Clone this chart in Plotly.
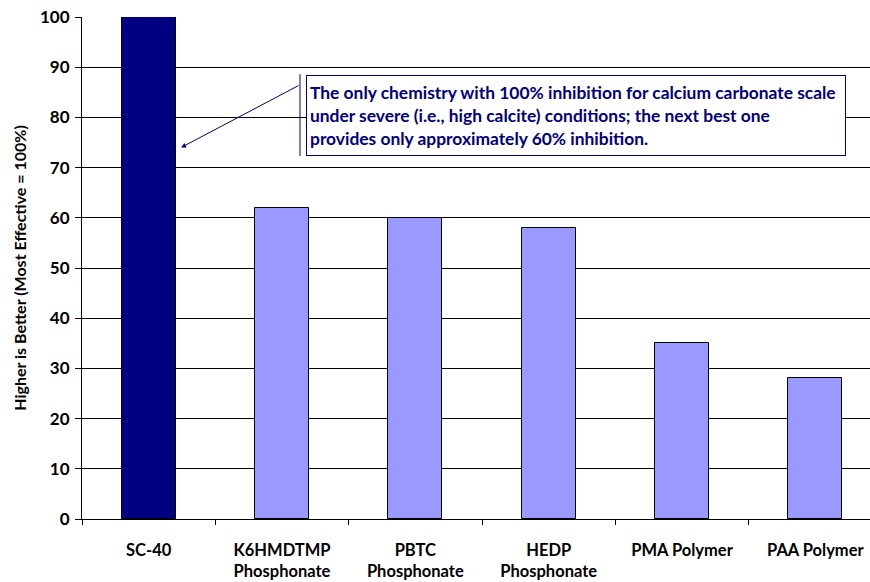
import plotly.graph_objects as go

categories = ["SC-40", "K6HMDTMP<br>Phosphonate", "PBTC<br>Phosphonate", "HEDP<br>Phosphonate", "PMA Polymer", "PAA Polymer"]
values = [100, 62, 60, 58, 35, 28]
bar_colors = ["#000080", "#9999FF", "#9999FF", "#9999FF", "#9999FF", "#9999FF"]
y_ticks = [0, 10, 20, 30, 40, 50, 60, 70, 80, 90, 100]
note = ("The only chemistry with 100% inhibition for calcium carbonate scale<br>"
        "under severe (i.e., high calcite) conditions; the next best one<br>"
        "provides only approximately 60% inhibition.")
y_title = "Higher is Better (Most Effective = 100%)"

FONT = "Lato"

fig = go.Figure(go.Bar(
    x=list(range(len(categories))),
    y=values,
    width=0.405,
    marker=dict(color=bar_colors, line=dict(color="#000000", width=1)),
    hoverinfo="skip",
))

fig.update_layout(
    width=870, height=582,
    margin=dict(l=82, r=0, t=17, b=63),
    paper_bgcolor="white", plot_bgcolor="white",
    showlegend=False,
    font=dict(family=FONT, color="#000000"),
    bargap=0,
)

fig.update_xaxes(
    automargin=False,
    tickmode="array",
    tickvals=list(range(len(categories))),
    ticktext=["<b>%s</b>" % c.replace("<br>", "</b><br><b>") for c in categories],
    range=[-0.5, 5.41],
    showgrid=False,
    showline=True, linecolor="#000000", linewidth=1,
    ticks="", ticklabelstandoff=16, ticklabeloverflow="allow",
    tickfont=dict(size=16.5, family=FONT, color="#000000"),
    zeroline=False,
)
fig.update_xaxes(minor=dict(tickmode="array", tickvals=[i - 0.5 for i in range(len(categories) + 1)],
                            ticks="outside", ticklen=5, tickcolor="#000000", tickwidth=1, showgrid=False))

fig.update_yaxes(
    automargin=False,
    range=[0, 100],
    tickmode="array", tickvals=y_ticks,
    ticktext=["<b>%d</b>" % v for v in y_ticks],
    tickfont=dict(size=17, family=FONT, color="#000000"),
    showgrid=True, gridcolor="#000000", gridwidth=1,
    showline=True, linecolor="#000000", linewidth=1,
    ticks="outside", ticklen=6, tickcolor="#000000", ticklabelstandoff=2,
    ticklabeloverflow="allow",
    zeroline=False,
    title=dict(text="<b>%s</b>" % y_title, font=dict(size=16, family=FONT, color="#000000"), standoff=9),
)

# arrow
fig.add_annotation(
    x=0.243, y=74, xref="x", yref="y",
    ax=1.135, ay=86.5, axref="x", ayref="y",
    text="", showarrow=True, arrowhead=2, arrowsize=1, arrowwidth=1, arrowcolor="#000080",
)
# bracket line
fig.add_shape(type="line", xref="x", yref="y", x0=1.135, x1=1.135, y0=72.3, y1=88.6,
              line=dict(color="#000080", width=1))
# text box
fig.add_annotation(
    x=1.18, y=88.4, xref="x", yref="y", xanchor="left", yanchor="top",
    text="<b>%s</b>" % note.replace("<br>", "</b><br><b>"),
    showarrow=False, align="left", width=532, height=73,
    font=dict(size=17.4, family=FONT, color="#000080"),
    bgcolor="white", bordercolor="#000080", borderwidth=1, borderpad=3,
)

fig.write_html("out.html", config={"displayModeBar": False},
               post_script="document.body.style.margin='0';document.body.style.overflow='hidden';")
